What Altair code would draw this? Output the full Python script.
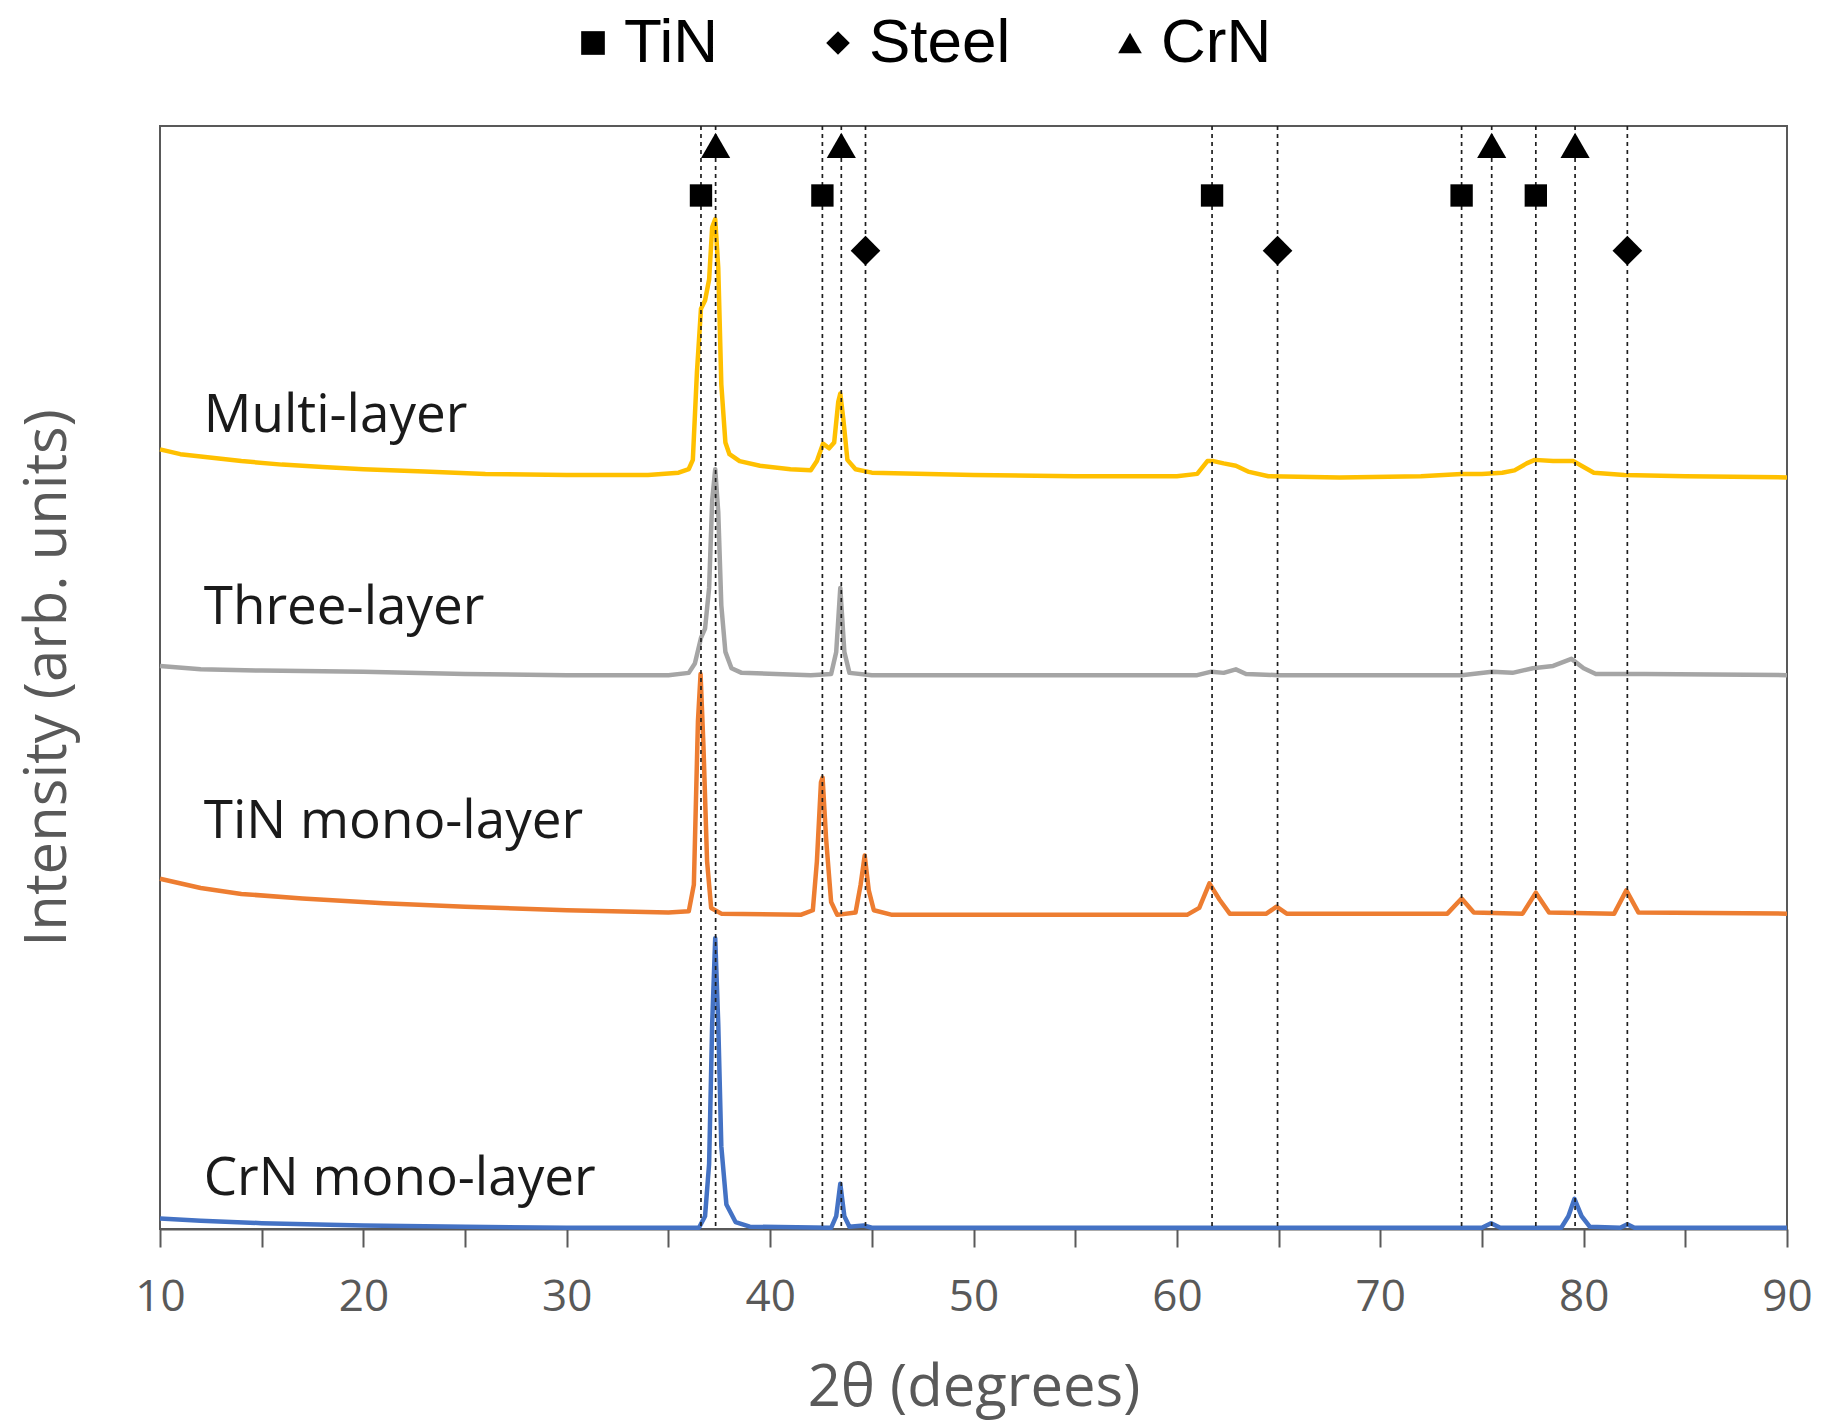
import altair as alt
import pandas as pd

# ---------------- data ----------------
series_names = ["Multi-layer", "Three-layer", "TiN mono-layer", "CrN mono-layer"]
series_colors = ["#FFC000", "#A5A5A5", "#ED7D31", "#4472C4"]

multi_x = [10.0, 11.0, 12.0, 14.0, 16.0, 18.0, 20.0, 23.0, 26.0, 30.0, 34.0, 35.5, 36.0, 36.2, 36.4,
           36.6, 36.8, 37.0, 37.15, 37.3, 37.45, 37.6, 37.8, 38.0, 38.5, 39.5, 41.0, 42.0, 42.3, 42.6,
           42.9, 43.15, 43.35, 43.45, 43.6, 43.8, 44.2, 45.0, 50.0, 55.0, 60.0, 61.0, 61.5, 61.8, 62.3,
           62.9, 63.5, 64.5, 68.0, 72.0, 74.0, 75.0, 76.0, 76.6, 77.2, 77.6, 78.5, 79.5, 80.0, 80.5,
           82.0, 85.0, 90.0]
multi_y = [70.68, 70.25, 70.04, 69.62, 69.30, 69.09, 68.88, 68.67, 68.46, 68.35, 68.35, 68.57, 68.90,
           69.73, 77.64, 83.44, 84.18, 86.08, 90.82, 91.56, 87.13, 76.58, 71.31, 70.25, 69.62, 69.20,
           68.88, 68.78, 69.62, 71.20, 70.78, 71.31, 75.00, 75.74, 73.42, 69.73, 68.88, 68.57, 68.35,
           68.25, 68.25, 68.46, 69.62, 69.62, 69.41, 69.20, 68.67, 68.25, 68.14, 68.25, 68.46, 68.46,
           68.57, 68.78, 69.41, 69.73, 69.62, 69.62, 69.09, 68.57, 68.35, 68.25, 68.14]

three_x = [10.0, 12.0, 15.0, 20.0, 25.0, 30.0, 35.0, 36.0, 36.3, 36.6, 36.8, 37.0, 37.15, 37.3, 37.45,
           37.6, 37.8, 38.1, 38.6, 42.0, 43.0, 43.25, 43.45, 43.65, 43.9, 45.0, 61.0, 61.7, 62.3, 62.9,
           63.4, 65.0, 74.0, 75.5, 76.5, 77.5, 78.5, 79.4, 80.0, 80.6, 83.0, 90.0]
three_y = [51.05, 50.74, 50.63, 50.53, 50.32, 50.21, 50.21, 50.42, 51.27, 53.59, 54.43, 58.12, 66.03,
           68.88, 64.98, 56.54, 52.32, 50.84, 50.42, 50.21, 50.32, 52.32, 58.12, 52.32, 50.42, 50.21,
           50.21, 50.53, 50.42, 50.74, 50.32, 50.21, 50.21, 50.53, 50.42, 50.84, 51.05, 51.69, 50.84,
           50.32, 50.32, 50.21]

tin_x = [10.0, 12.0, 14.0, 17.0, 21.0, 25.0, 30.0, 35.0, 36.0, 36.25, 36.45, 36.58, 36.72, 36.9, 37.1,
         37.6, 41.5, 42.1, 42.3, 42.5, 42.58, 42.75, 43.0, 43.3, 44.2, 44.45, 44.65, 44.85, 45.1, 46.0,
         60.5, 61.1, 61.6, 62.1, 62.6, 64.4, 64.9, 65.4, 73.3, 74.0, 74.6, 77.0, 77.65, 78.3, 81.5,
         82.1, 82.7, 90.0]
tin_y = [31.75, 30.91, 30.38, 29.96, 29.54, 29.22, 28.90, 28.69, 28.80, 31.22, 45.99, 50.32, 43.88,
         33.33, 29.11, 28.59, 28.48, 28.90, 33.33, 40.51, 40.93, 35.44, 29.64, 28.48, 28.69, 31.22,
         33.86, 30.70, 28.90, 28.48, 28.48, 29.11, 31.33, 29.85, 28.59, 28.59, 29.22, 28.59, 28.59,
         29.96, 28.69, 28.59, 30.49, 28.69, 28.59, 30.70, 28.69, 28.59]

crn_x = [10.0, 12.0, 15.0, 20.0, 25.0, 30.0, 36.5, 36.8, 37.0, 37.15, 37.3, 37.45, 37.6, 37.85, 38.3,
         39.0, 43.0, 43.25, 43.45, 43.65, 43.9, 44.6, 45.0, 75.0, 75.45, 75.9, 78.9, 79.25, 79.55,
         79.9, 80.3, 81.8, 82.15, 82.5, 90.0]
crn_y = [0.95, 0.74, 0.53, 0.32, 0.21, 0.11, 0.11, 1.16, 5.91, 18.57, 26.37, 18.57, 7.49, 2.22, 0.63,
         0.21, 0.11, 1.16, 4.11, 1.16, 0.21, 0.32, 0.11, 0.11, 0.53, 0.11, 0.11, 1.16, 2.74, 1.16,
         0.21, 0.11, 0.42, 0.11, 0.11]

# reference peak positions (2 theta) for each phase
tin_peaks = [36.6, 42.57, 61.73, 74.0, 77.65]
crn_peaks = [37.32, 43.5, 75.48, 79.58]
steel_peaks = [44.69, 64.95, 82.15]
# marker heights (on the arbitrary intensity scale)
tin_marker_y = 93.7
crn_marker_y = 98.25
steel_marker_y = 88.7

# curve label positions
label_x = [12.15, 12.15, 12.15, 12.15]
label_y = [72.26, 54.87, 35.44, 3.06]

# ---------------- tables ----------------
curves = pd.concat([
    pd.DataFrame({"x": multi_x, "y": multi_y, "series": series_names[0], "k": 0}),
    pd.DataFrame({"x": three_x, "y": three_y, "series": series_names[1], "k": 1}),
    pd.DataFrame({"x": tin_x, "y": tin_y, "series": series_names[2], "k": 2}),
    pd.DataFrame({"x": crn_x, "y": crn_y, "series": series_names[3], "k": 3}),
], ignore_index=True)

peaks = pd.DataFrame({
    "x": tin_peaks + steel_peaks + crn_peaks,
    "phase": ["TiN"] * len(tin_peaks) + ["Steel"] * len(steel_peaks) + ["CrN"] * len(crn_peaks),
    "y": [tin_marker_y] * len(tin_peaks) + [steel_marker_y] * len(steel_peaks) + [crn_marker_y] * len(crn_peaks),
})

labels = pd.DataFrame({"x": label_x, "y": label_y, "text": series_names})

# ---------------- chart ----------------
xscale = alt.Scale(domain=[10, 90], nice=False, zero=False)
yscale = alt.Scale(domain=[0, 100], nice=False, zero=False)

xaxis = alt.Axis(
    values=list(range(10, 95, 5)),
    labelExpr="datum.value % 10 == 0 ? datum.label : ''",
    title="2θ (degrees)",
    grid=False,
    domainColor="#595959", domainWidth=2,
    tickColor="#595959", tickWidth=2, tickSize=18,
    labelFont="Open Sans", labelFontSize=44, labelColor="#595959", labelPadding=28,
    labelFlush=False, labelOverlap=False,
    titleFont="Open Sans", titleFontSize=58, titleFontWeight="normal", titleColor="#595959",
    titlePadding=40,
)
yaxis = alt.Axis(
    title="Intensity (arb. units)", labels=False, ticks=False, domain=False, grid=False,
    titleFont="Open Sans", titleFontSize=58, titleFontWeight="normal", titleColor="#595959",
    titlePadding=83,
)

lines = alt.Chart(curves).mark_line(strokeWidth=4.5, strokeJoin="round").encode(
    x=alt.X("x:Q", scale=xscale, axis=xaxis),
    y=alt.Y("y:Q", scale=yscale, axis=yaxis),
    color=alt.Color("series:N", scale=alt.Scale(domain=series_names, range=series_colors), legend=None),
    detail="k:N",
    order="x:Q",
)

rules = alt.Chart(peaks).mark_rule(color="#1f1f1f", strokeWidth=1.7, strokeDash=[4, 4]).encode(
    x=alt.X("x:Q", scale=xscale),
)

markers = alt.Chart(peaks).transform_calculate(
    sz="datum.phase == 'TiN' ? 500 : (datum.phase == 'Steel' ? 880 : 850)"
).mark_point(filled=True, color="black", opacity=1, strokeWidth=0).encode(
    x=alt.X("x:Q", scale=xscale),
    y=alt.Y("y:Q", scale=yscale),
    shape=alt.Shape(
        "phase:N",
        scale=alt.Scale(domain=["TiN", "Steel", "CrN"], range=["square", "diamond", "triangle-up"]),
        legend=alt.Legend(
            title=None, orient="none", legendX=402, legendY=-114, direction="horizontal",
            labelFont="Liberation Sans", labelFontSize=62, labelColor="black",
            symbolSize=560, symbolFillColor="black", symbolStrokeColor="black", symbolStrokeWidth=0,
            symbolOpacity=1, labelOffset=0, columnPadding=88,
        ),
    ),
    size=alt.Size("sz:Q", scale=None),
)

texts = alt.Chart(labels).mark_text(
    align="left", baseline="alphabetic", font="Open Sans", fontSize=53, color="#1a1a1a"
).encode(
    x=alt.X("x:Q", scale=xscale),
    y=alt.Y("y:Q", scale=yscale),
    text="text:N",
)

chart = alt.layer(lines, rules, markers, texts).properties(
    width=1627, height=1103,
    autosize=alt.AutoSizeParams(type="none"),
    padding={"left": 160, "top": 126, "right": 37, "bottom": 194},
    background="white",
).configure_view(
    stroke="#595959", strokeWidth=2,
)

chart.save("out.html", embed_options={"renderer": "svg", "actions": False})
